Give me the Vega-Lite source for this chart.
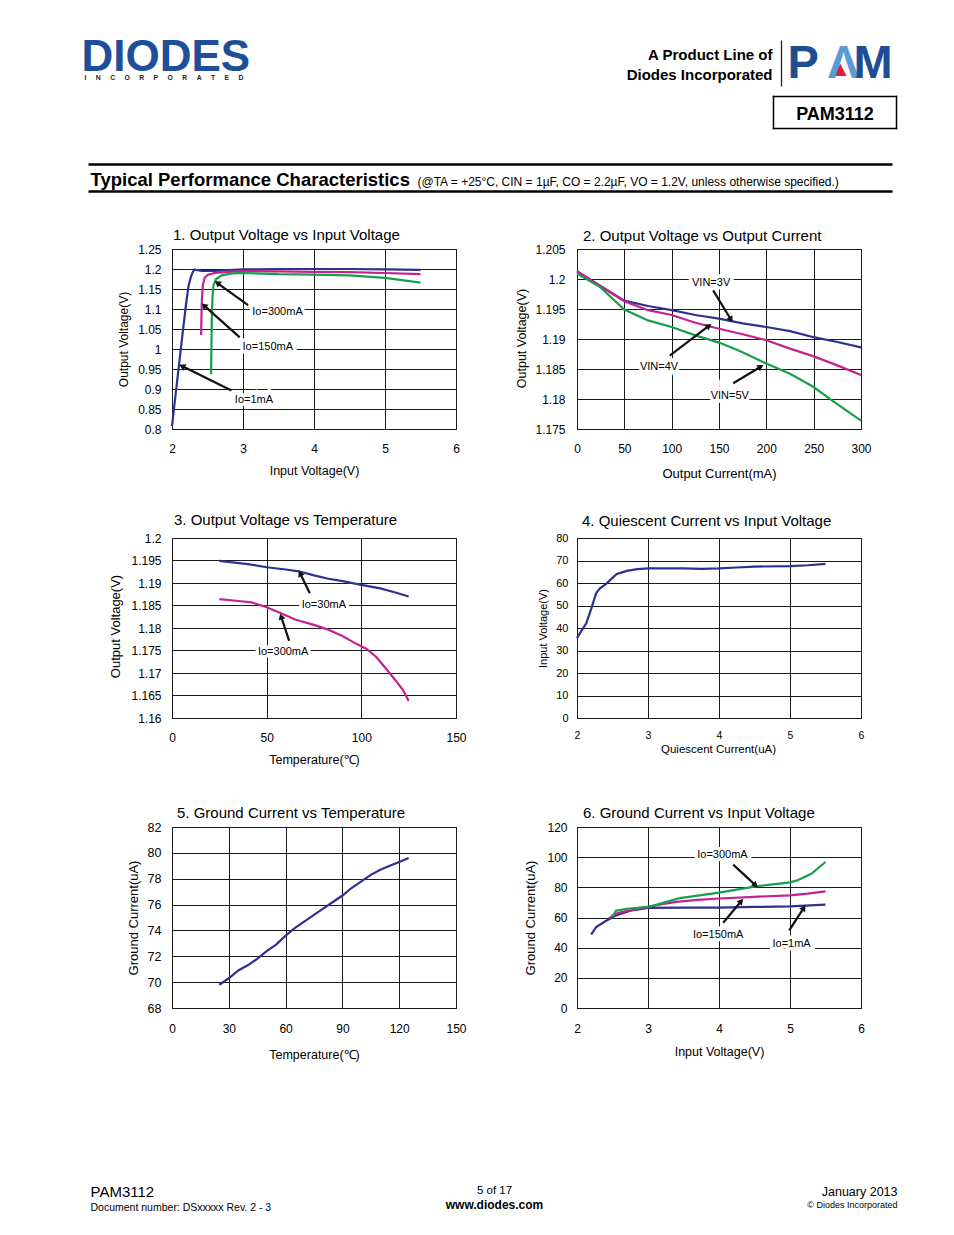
{
  "$schema": "https://vega.github.io/schema/vega-lite/v6.json",
  "background": "white",
  "padding": {"left": 81, "top": 35, "right": 5, "bottom": 5},
  "config": {
    "font": "Liberation Sans",
    "view": {"stroke": "#000", "strokeWidth": 1},
    "axis": {
      "domain": false, "ticks": false, "tickSize": 0, "grid": true,
      "gridColor": "#1a1a1a", "gridWidth": 1, "gridOpacity": 1,
      "labelColor": "#000", "labelFont": "Liberation Sans", "labelFontSize": 12,
      "titleFont": "Liberation Sans", "titleColor": "#000", "titleFontWeight": "normal", "titleFontSize": 12.5,
      "labelOverlap": false, "labelFlush": false, "labelBound": false, "tickCount": 20
    }
  },
  "resolve": {"scale": {"color": "independent"}},
  "datasets": {
    "c1": [
      {"s":"Io=1mA","x":2.0,"y":0.807},{"s":"Io=1mA","x":2.05,"y":0.885},{"s":"Io=1mA","x":2.1,"y":0.962},{"s":"Io=1mA","x":2.15,"y":1.04},{"s":"Io=1mA","x":2.2,"y":1.115},{"s":"Io=1mA","x":2.23,"y":1.155},{"s":"Io=1mA","x":2.27,"y":1.183},{"s":"Io=1mA","x":2.3,"y":1.195},{"s":"Io=1mA","x":2.32,"y":1.199},{"s":"Io=1mA","x":2.36,"y":1.197},{"s":"Io=1mA","x":2.42,"y":1.195},{"s":"Io=1mA","x":2.6,"y":1.195},{"s":"Io=1mA","x":2.8,"y":1.197},{"s":"Io=1mA","x":3.0,"y":1.199},{"s":"Io=1mA","x":3.5,"y":1.2},{"s":"Io=1mA","x":4.0,"y":1.2},{"s":"Io=1mA","x":4.5,"y":1.2},{"s":"Io=1mA","x":5.0,"y":1.199},{"s":"Io=1mA","x":5.5,"y":1.198},
      {"s":"Io=150mA","x":2.41,"y":1.035},{"s":"Io=150mA","x":2.415,"y":1.08},{"s":"Io=150mA","x":2.42,"y":1.12},{"s":"Io=150mA","x":2.435,"y":1.16},{"s":"Io=150mA","x":2.46,"y":1.178},{"s":"Io=150mA","x":2.5,"y":1.185},{"s":"Io=150mA","x":2.6,"y":1.19},{"s":"Io=150mA","x":2.8,"y":1.193},{"s":"Io=150mA","x":3.0,"y":1.195},{"s":"Io=150mA","x":3.5,"y":1.194},{"s":"Io=150mA","x":4.0,"y":1.193},{"s":"Io=150mA","x":4.5,"y":1.192},{"s":"Io=150mA","x":5.0,"y":1.19},{"s":"Io=150mA","x":5.5,"y":1.187},
      {"s":"Io=300mA","x":2.55,"y":0.937},{"s":"Io=300mA","x":2.555,"y":1.0},{"s":"Io=300mA","x":2.56,"y":1.07},{"s":"Io=300mA","x":2.57,"y":1.13},{"s":"Io=300mA","x":2.585,"y":1.16},{"s":"Io=300mA","x":2.62,"y":1.175},{"s":"Io=300mA","x":2.7,"y":1.184},{"s":"Io=300mA","x":2.85,"y":1.189},{"s":"Io=300mA","x":3.0,"y":1.19},{"s":"Io=300mA","x":3.5,"y":1.187},{"s":"Io=300mA","x":4.0,"y":1.186},{"s":"Io=300mA","x":4.5,"y":1.184},{"s":"Io=300mA","x":5.0,"y":1.178},{"s":"Io=300mA","x":5.5,"y":1.166}
    ],
    "c1a": [
      {"x":3.072,"y":1.1097,"x2":2.649,"y2":1.1637,"dir":306},
      {"x":2.954,"y":1.0292,"x2":2.461,"y2":1.1072,"dir":312},
      {"x":2.837,"y":0.8963,"x2":2.155,"y2":0.9561,"dir":296}
    ],
    "c1l": [
      {"label":"Io=300mA","x":3.486,"y":1.093},
      {"label":"Io=150mA","x":3.349,"y":1.004},
      {"label":"Io=1mA","x":3.154,"y":0.873}
    ],
    "c2": [
      {"s":"VIN=3V","x":0,"y":1.2013},{"s":"VIN=3V","x":25,"y":1.1988},{"s":"VIN=3V","x":50,"y":1.1964},{"s":"VIN=3V","x":75,"y":1.1955},{"s":"VIN=3V","x":100,"y":1.1948},{"s":"VIN=3V","x":125,"y":1.194},{"s":"VIN=3V","x":150,"y":1.1934},{"s":"VIN=3V","x":175,"y":1.1926},{"s":"VIN=3V","x":200,"y":1.192},{"s":"VIN=3V","x":225,"y":1.1913},{"s":"VIN=3V","x":250,"y":1.1903},{"s":"VIN=3V","x":275,"y":1.1895},{"s":"VIN=3V","x":300,"y":1.1886},
      {"s":"VIN=4V","x":0,"y":1.2013},{"s":"VIN=4V","x":25,"y":1.1988},{"s":"VIN=4V","x":50,"y":1.1963},{"s":"VIN=4V","x":75,"y":1.1948},{"s":"VIN=4V","x":100,"y":1.194},{"s":"VIN=4V","x":125,"y":1.1927},{"s":"VIN=4V","x":150,"y":1.1917},{"s":"VIN=4V","x":175,"y":1.1908},{"s":"VIN=4V","x":200,"y":1.1898},{"s":"VIN=4V","x":225,"y":1.1884},{"s":"VIN=4V","x":250,"y":1.1871},{"s":"VIN=4V","x":275,"y":1.1856},{"s":"VIN=4V","x":300,"y":1.184},
      {"s":"VIN=5V","x":0,"y":1.2009},{"s":"VIN=5V","x":24,"y":1.1987},{"s":"VIN=5V","x":50,"y":1.1949},{"s":"VIN=5V","x":75,"y":1.1931},{"s":"VIN=5V","x":100,"y":1.192},{"s":"VIN=5V","x":125,"y":1.1906},{"s":"VIN=5V","x":150,"y":1.1894},{"s":"VIN=5V","x":172,"y":1.188},{"s":"VIN=5V","x":200,"y":1.1859},{"s":"VIN=5V","x":225,"y":1.1842},{"s":"VIN=5V","x":250,"y":1.182},{"s":"VIN=5V","x":270,"y":1.1797},{"s":"VIN=5V","x":300,"y":1.1764}
    ],
    "c2a": [
      {"x":143.8,"y":1.1981,"x2":162.1,"y2":1.19337,"dir":148},
      {"x":98.0,"y":1.18722,"x2":138.5,"y2":1.19209,"dir":53},
      {"x":165.0,"y":1.18263,"x2":193.2,"y2":1.1853,"dir":59}
    ],
    "c2l": [
      {"label":"VIN=3V","x":141.7,"y":1.19932},
      {"label":"VIN=4V","x":86.7,"y":1.1853},
      {"label":"VIN=5V","x":161.4,"y":1.18057}
    ],
    "c3": [
      {"s":"Io=30mA","x":25,"y":1.1949},{"s":"Io=30mA","x":40,"y":1.1942},{"s":"Io=30mA","x":50,"y":1.1935},{"s":"Io=30mA","x":60,"y":1.193},{"s":"Io=30mA","x":67,"y":1.1926},{"s":"Io=30mA","x":75,"y":1.1917},{"s":"Io=30mA","x":82,"y":1.191},{"s":"Io=30mA","x":90,"y":1.1904},{"s":"Io=30mA","x":100,"y":1.1896},{"s":"Io=30mA","x":110,"y":1.1888},{"s":"Io=30mA","x":118,"y":1.1879},{"s":"Io=30mA","x":125,"y":1.187},
      {"s":"Io=300mA","x":25,"y":1.1864},{"s":"Io=300mA","x":35,"y":1.186},{"s":"Io=300mA","x":42,"y":1.1857},{"s":"Io=300mA","x":50,"y":1.1846},{"s":"Io=300mA","x":57,"y":1.1834},{"s":"Io=300mA","x":65,"y":1.1819},{"s":"Io=300mA","x":75,"y":1.1807},{"s":"Io=300mA","x":82,"y":1.1797},{"s":"Io=300mA","x":90,"y":1.1782},{"s":"Io=300mA","x":96,"y":1.1768},{"s":"Io=300mA","x":103,"y":1.1753},{"s":"Io=300mA","x":108,"y":1.1735},{"s":"Io=300mA","x":113,"y":1.171},{"s":"Io=300mA","x":118,"y":1.1684},{"s":"Io=300mA","x":122,"y":1.1662},{"s":"Io=300mA","x":125,"y":1.1638}
    ],
    "c3a": [
      {"x":72.8,"y":1.18773,"x2":67.9,"y2":1.19194,"dir":334},
      {"x":61.9,"y":1.17715,"x2":57.8,"y2":1.18233,"dir":342}
    ],
    "c3l": [
      {"label":"Io=30mA","x":80.2,"y":1.18506},
      {"label":"Io=300mA","x":58.7,"y":1.17457}
    ],
    "c4": [
      {"x":2.0,"y":35.5},{"x":2.06,"y":38.6},{"x":2.13,"y":42.1},{"x":2.2,"y":48.5},{"x":2.27,"y":55.5},{"x":2.32,"y":57.5},{"x":2.41,"y":59.6},{"x":2.555,"y":63.9},{"x":2.7,"y":65.4},{"x":2.85,"y":66.2},{"x":3.0,"y":66.5},{"x":3.5,"y":66.5},{"x":3.75,"y":66.3},{"x":4.0,"y":66.5},{"x":4.25,"y":66.9},{"x":4.5,"y":67.3},{"x":5.0,"y":67.5},{"x":5.25,"y":67.9},{"x":5.5,"y":68.5}
    ],
    "c5": [
      {"x":25,"y":69.8},{"x":30,"y":70.3},{"x":35,"y":70.9},{"x":40,"y":71.3},{"x":45,"y":71.8},{"x":50,"y":72.4},{"x":55,"y":72.9},{"x":60,"y":73.6},{"x":65,"y":74.2},{"x":70,"y":74.7},{"x":75,"y":75.2},{"x":80,"y":75.7},{"x":85,"y":76.2},{"x":90,"y":76.7},{"x":95,"y":77.3},{"x":100,"y":77.8},{"x":105,"y":78.3},{"x":110,"y":78.7},{"x":115,"y":79.0},{"x":120,"y":79.3},{"x":125,"y":79.6}
    ],
    "c6": [
      {"s":"Io=1mA","x":2.2,"y":48.6},{"s":"Io=1mA","x":2.27,"y":53.7},{"s":"Io=1mA","x":2.4,"y":57.5},{"s":"Io=1mA","x":2.55,"y":61.4},{"s":"Io=1mA","x":2.75,"y":64.5},{"s":"Io=1mA","x":3.0,"y":66.4},{"s":"Io=1mA","x":3.5,"y":66.5},{"s":"Io=1mA","x":4.0,"y":66.6},{"s":"Io=1mA","x":4.5,"y":67.0},{"s":"Io=1mA","x":5.0,"y":67.4},{"s":"Io=1mA","x":5.5,"y":68.5},
      {"s":"Io=150mA","x":2.45,"y":59.5},{"s":"Io=150mA","x":2.52,"y":62.0},{"s":"Io=150mA","x":2.6,"y":63.2},{"s":"Io=150mA","x":2.8,"y":65.2},{"s":"Io=150mA","x":3.0,"y":67.0},{"s":"Io=150mA","x":3.2,"y":68.8},{"s":"Io=150mA","x":3.4,"y":70.3},{"s":"Io=150mA","x":3.7,"y":71.7},{"s":"Io=150mA","x":4.0,"y":72.6},{"s":"Io=150mA","x":4.5,"y":73.7},{"s":"Io=150mA","x":5.0,"y":74.7},{"s":"Io=150mA","x":5.25,"y":75.8},{"s":"Io=150mA","x":5.5,"y":77.3},
      {"s":"Io=300mA","x":2.5,"y":60.3},{"s":"Io=300mA","x":2.55,"y":64.5},{"s":"Io=300mA","x":2.7,"y":65.8},{"s":"Io=300mA","x":3.0,"y":67.0},{"s":"Io=300mA","x":3.2,"y":69.5},{"s":"Io=300mA","x":3.45,"y":72.9},{"s":"Io=300mA","x":3.7,"y":74.5},{"s":"Io=300mA","x":4.0,"y":76.5},{"s":"Io=300mA","x":4.5,"y":80.5},{"s":"Io=300mA","x":5.0,"y":83.3},{"s":"Io=300mA","x":5.1,"y":84.6},{"s":"Io=300mA","x":5.3,"y":89.0},{"s":"Io=300mA","x":5.5,"y":96.8}
    ],
    "c6a": [
      {"x":4.2,"y":95.03,"x2":4.505,"y2":81.77,"dir":133},
      {"x":4.059,"y":56.57,"x2":4.303,"y2":70.28,"dir":40},
      {"x":4.989,"y":51.49,"x2":5.187,"y2":65.86,"dir":33}
    ],
    "c6l": [
      {"label":"Io=300mA","x":4.049,"y":101.66},
      {"label":"Io=150mA","x":3.988,"y":48.18},
      {"label":"Io=1mA","x":5.022,"y":42.21}
    ]
  },
  "columns": 2,
  "bounds": "flush",
  "align": "each",
  "spacing": {"row": 109, "column": 121},
  "concat": [
    {
      "width": 284, "height": 44, "view": {"stroke": null},
      "data": {"values": [{}]},
      "layer": [
        {"mark": {"type": "point", "opacity": 0, "size": 1},
         "encoding": {
           "x": {"datum": 0.5, "type": "quantitative", "scale": {"domain": [0, 1], "range": [-84, 720]},
                 "axis": {"orient": "bottom", "offset": 24, "domain": true, "domainColor": "#000", "domainWidth": 2.5, "labels": false, "ticks": false, "grid": false,
                          "title": "Typical Performance Characteristics", "titleX": -82, "titleY": 21, "titleAlign": "left", "titleBaseline": "alphabetic", "titleFontSize": 18.5, "titleFontWeight": "bold"}},
           "y": {"datum": 0.5, "type": "quantitative", "scale": {"domain": [0, 1]},
                 "axis": {"orient": "left", "domain": false, "labels": false, "ticks": false, "grid": false,
                          "title": ["A Product Line of", "Diodes Incorporated"], "titleAngle": 0, "titleX": 600, "titleY": -36.5, "titleAlign": "right", "titleBaseline": "alphabetic", "titleFontSize": 15, "titleFontWeight": "bold", "titleLineHeight": 20}}
         }},
        {"mark": {"type": "point", "opacity": 0, "size": 1},
         "encoding": {
           "x": {"datum": 0.5, "type": "quantitative", "scale": {"domain": [0, 1], "range": [-84, 720]},
                 "axis": {"orient": "bottom", "offset": 51, "domain": true, "domainColor": "#000", "domainWidth": 2.5, "labels": false, "ticks": false, "grid": false,
                          "title": "(@TA = +25°C, CIN = 1µF, CO = 2.2µF, VO = 1.2V, unless otherwise specified.)", "titleX": 245, "titleY": -6, "titleAlign": "left", "titleBaseline": "alphabetic", "titleFontSize": 12, "titleFontWeight": "normal"}},
           "y": {"datum": 0.5, "type": "quantitative", "scale": {"domain": [0, 1], "range": [-10, -56]},
                 "axis": {"orient": "right", "offset": 325, "domain": true, "domainColor": "#222", "domainWidth": 1.3, "labels": false, "ticks": false, "grid": false,
                          "title": "▲", "titleFont": "DejaVu Sans", "titleColor": "#e0202e", "titleAngle": 0, "titleX": 59, "titleY": -22.5, "titleAlign": "center", "titleBaseline": "alphabetic", "titleFontSize": 16}}
         }}
      ],
      "resolve": {"scale": {"x": "independent", "y": "independent"}, "axis": {"x": "independent", "y": "independent"}}
    },
    {
      "width": 284, "height": 32, "view": {"stroke": null},
      "data": {"values": [{}]},
      "layer": [
        {"mark": {"type": "point", "opacity": 0, "size": 1},
         "encoding": {
           "x": {"datum": 0.5, "type": "quantitative", "scale": {"domain": [0, 1], "range": [196, 319]},
                 "axis": {"orient": "bottom", "domain": true, "domainColor": "#000", "domainWidth": 1.5, "domainCap": "square", "labels": false, "ticks": false, "grid": false,
                          "title": "PAM3112", "titleX": 257.5, "titleY": -8.7, "titleAlign": "center", "titleBaseline": "alphabetic", "titleFontSize": 18, "titleFontWeight": "bold"}},
           "y": {"datum": 0.5, "type": "quantitative", "scale": {"domain": [0, 1]},
                 "axis": {"orient": "left", "offset": -196, "domain": true, "domainColor": "#000", "domainWidth": 1.5, "domainCap": "square", "labels": false, "ticks": false, "grid": false,
                          "title": "P", "titleAngle": 0, "titleX": 14, "titleY": -19, "titleAlign": "left", "titleBaseline": "alphabetic", "titleFontSize": 47, "titleFontWeight": "bold", "titleColor": "#1d4e94"}}
         }},
        {"mark": {"type": "point", "opacity": 0, "size": 1},
         "encoding": {
           "x": {"datum": 0.5, "type": "quantitative", "scale": {"domain": [0, 1], "range": [196, 319]},
                 "axis": {"orient": "top", "domain": true, "domainColor": "#000", "domainWidth": 1.5, "domainCap": "square", "labels": false, "ticks": false, "grid": false,
                          "title": "Λ", "titleX": 266, "titleY": -19, "titleAlign": "center", "titleBaseline": "alphabetic", "titleFontSize": 47, "titleFontWeight": "bold", "titleColor": "#5b9bd5"}},
           "y": {"datum": 0.5, "type": "quantitative", "scale": {"domain": [0, 1]},
                 "axis": {"orient": "right", "offset": 35, "domain": true, "domainColor": "#000", "domainWidth": 1.5, "domainCap": "square", "labels": false, "ticks": false, "grid": false,
                          "title": "M", "titleAngle": 0, "titleX": -43, "titleY": -19, "titleAlign": "left", "titleBaseline": "alphabetic", "titleFontSize": 47, "titleFontWeight": "bold", "titleColor": "#1d4e94"}}
         }}
      ],
      "resolve": {"scale": {"x": "independent", "y": "independent"}, "axis": {"x": "independent", "y": "independent"}}
    },
    {
      "width": 284, "height": 180,
      "title": {"text": "1. Output Voltage vs Input Voltage", "anchor": "start", "frame": "group", "orient": "top", "dx": 1, "offset": -12, "baseline": "alphabetic", "font": "Liberation Sans", "fontSize": 15, "fontWeight": "normal", "color": "#000"},
      "layer": [
        {"data": {"name": "c1"}, "mark": {"type": "line", "strokeWidth": 2.2},
         "encoding": {
           "x": {"field": "x", "type": "quantitative", "scale": {"domain": [2, 6], "nice": false, "zero": false},
                 "axis": {"values": [2, 3, 4, 5, 6], "tickCount": 20, "format": "d", "labelPadding": 14, "title": "Input Voltage(V)", "titleX": 142, "titleY": 45, "titleBaseline": "alphabetic", "titleFontSize": 12.5}},
           "y": {"field": "y", "type": "quantitative", "scale": {"domain": [0.8, 1.25], "nice": false, "zero": false},
                 "axis": {"values": [0.8, 0.85, 0.9, 0.95, 1, 1.05, 1.1, 1.15, 1.2, 1.25], "tickCount": 20, "format": ".3~f", "labelPadding": 11, "title": "Output Voltage(V)", "titleX": -49, "titleY": 90, "titleBaseline": "middle", "titleFontSize": 12}},
           "color": {"field": "s", "type": "nominal", "legend": null, "scale": {"domain": ["Io=1mA", "Io=150mA", "Io=300mA"], "range": ["#2e3192", "#c4228e", "#17a04c"]}}
         }},
        {"data": {"name": "c1a"}, "mark": {"type": "rule", "color": "#111", "strokeWidth": 2.2},
         "encoding": {"x": {"field": "x", "type": "quantitative"}, "y": {"field": "y", "type": "quantitative"}, "x2": {"field": "x2"}, "y2": {"field": "y2"}}},
        {"data": {"name": "c1a"}, "mark": {"type": "point", "shape": "triangle", "filled": true, "color": "#111", "size": 50, "opacity": 1},
         "encoding": {"x": {"field": "x2", "type": "quantitative"}, "y": {"field": "y2", "type": "quantitative"}, "angle": {"field": "dir", "type": "quantitative", "scale": {"domain": [0, 360], "range": [0, 360]}}}},
        {"data": {"name": "c1l"}, "mark": {"type": "text", "fontSize": 11, "fill": "#fff", "stroke": "#fff", "strokeWidth": 7},
         "encoding": {"x": {"field": "x", "type": "quantitative"}, "y": {"field": "y", "type": "quantitative"}, "text": {"field": "label"}}},
        {"data": {"name": "c1l"}, "mark": {"type": "text", "fontSize": 11, "color": "#000"},
         "encoding": {"x": {"field": "x", "type": "quantitative"}, "y": {"field": "y", "type": "quantitative"}, "text": {"field": "label"}}}
      ]
    },
    {
      "width": 284, "height": 180,
      "title": {"text": "2. Output Voltage vs Output Current", "anchor": "start", "frame": "group", "orient": "top", "dx": 6, "offset": -13, "baseline": "alphabetic", "font": "Liberation Sans", "fontSize": 15, "fontWeight": "normal", "color": "#000"},
      "layer": [
        {"data": {"name": "c2"}, "mark": {"type": "line", "strokeWidth": 2.2},
         "encoding": {
           "x": {"field": "x", "type": "quantitative", "scale": {"domain": [0, 300], "nice": false, "zero": false},
                 "axis": {"values": [0, 50, 100, 150, 200, 250, 300], "tickCount": 20, "format": "d", "labelPadding": 14, "title": "Output Current(mA)", "titleX": 142, "titleY": 48, "titleBaseline": "alphabetic", "titleFontSize": 13}},
           "y": {"field": "y", "type": "quantitative", "scale": {"domain": [1.175, 1.205], "nice": false, "zero": false},
                 "axis": {"values": [1.175, 1.18, 1.185, 1.19, 1.195, 1.2, 1.205], "tickCount": 20, "format": ".3~f", "labelPadding": 12, "title": "Output Voltage(V)", "titleX": -56, "titleY": 89, "titleBaseline": "middle", "titleFontSize": 12.5}},
           "color": {"field": "s", "type": "nominal", "legend": null, "scale": {"domain": ["VIN=3V", "VIN=4V", "VIN=5V"], "range": ["#2e3192", "#c4228e", "#17a04c"]}}
         }},
        {"data": {"name": "c2a"}, "mark": {"type": "rule", "color": "#111", "strokeWidth": 2.2},
         "encoding": {"x": {"field": "x", "type": "quantitative"}, "y": {"field": "y", "type": "quantitative"}, "x2": {"field": "x2"}, "y2": {"field": "y2"}}},
        {"data": {"name": "c2a"}, "mark": {"type": "point", "shape": "triangle", "filled": true, "color": "#111", "size": 50, "opacity": 1},
         "encoding": {"x": {"field": "x2", "type": "quantitative"}, "y": {"field": "y2", "type": "quantitative"}, "angle": {"field": "dir", "type": "quantitative", "scale": {"domain": [0, 360], "range": [0, 360]}}}},
        {"data": {"name": "c2l"}, "mark": {"type": "text", "fontSize": 11, "fill": "#fff", "stroke": "#fff", "strokeWidth": 7},
         "encoding": {"x": {"field": "x", "type": "quantitative"}, "y": {"field": "y", "type": "quantitative"}, "text": {"field": "label"}}},
        {"data": {"name": "c2l"}, "mark": {"type": "text", "fontSize": 11, "color": "#000"},
         "encoding": {"x": {"field": "x", "type": "quantitative"}, "y": {"field": "y", "type": "quantitative"}, "text": {"field": "label"}}}
      ]
    },
    {
      "width": 284, "height": 180,
      "title": {"text": "3. Output Voltage vs Temperature", "anchor": "start", "frame": "group", "orient": "top", "dx": 2, "offset": -8, "baseline": "alphabetic", "font": "Liberation Sans", "fontSize": 15, "fontWeight": "normal", "color": "#000"},
      "layer": [
        {"data": {"name": "c3"}, "mark": {"type": "line", "strokeWidth": 2.2},
         "encoding": {
           "x": {"field": "x", "type": "quantitative", "scale": {"domain": [0, 150], "nice": false, "zero": false},
                 "axis": {"values": [0, 50, 100, 150], "tickCount": 20, "format": "d", "labelPadding": 14, "title": "Temperature(℃)", "titleX": 142, "titleY": 45, "titleBaseline": "alphabetic", "titleFontSize": 12.5}},
           "y": {"field": "y", "type": "quantitative", "scale": {"domain": [1.16, 1.2], "nice": false, "zero": false},
                 "axis": {"values": [1.16, 1.165, 1.17, 1.175, 1.18, 1.185, 1.19, 1.195, 1.2], "tickCount": 20, "format": ".3~f", "labelPadding": 11, "title": "Output Voltage(V)", "titleX": -57, "titleY": 88, "titleBaseline": "middle", "titleFontSize": 13}},
           "color": {"field": "s", "type": "nominal", "legend": null, "scale": {"domain": ["Io=30mA", "Io=300mA"], "range": ["#2e3192", "#c4228e"]}}
         }},
        {"data": {"name": "c3a"}, "mark": {"type": "rule", "color": "#111", "strokeWidth": 2.2},
         "encoding": {"x": {"field": "x", "type": "quantitative"}, "y": {"field": "y", "type": "quantitative"}, "x2": {"field": "x2"}, "y2": {"field": "y2"}}},
        {"data": {"name": "c3a"}, "mark": {"type": "point", "shape": "triangle", "filled": true, "color": "#111", "size": 50, "opacity": 1},
         "encoding": {"x": {"field": "x2", "type": "quantitative"}, "y": {"field": "y2", "type": "quantitative"}, "angle": {"field": "dir", "type": "quantitative", "scale": {"domain": [0, 360], "range": [0, 360]}}}},
        {"data": {"name": "c3l"}, "mark": {"type": "text", "fontSize": 11, "fill": "#fff", "stroke": "#fff", "strokeWidth": 7},
         "encoding": {"x": {"field": "x", "type": "quantitative"}, "y": {"field": "y", "type": "quantitative"}, "text": {"field": "label"}}},
        {"data": {"name": "c3l"}, "mark": {"type": "text", "fontSize": 11, "color": "#000"},
         "encoding": {"x": {"field": "x", "type": "quantitative"}, "y": {"field": "y", "type": "quantitative"}, "text": {"field": "label"}}}
      ]
    },
    {
      "width": 284, "height": 180,
      "title": {"text": "4. Quiescent Current vs Input Voltage", "anchor": "start", "frame": "group", "orient": "top", "dx": 5, "offset": -9, "baseline": "alphabetic", "font": "Liberation Sans", "fontSize": 15, "fontWeight": "normal", "color": "#000"},
      "data": {"name": "c4"},
      "mark": {"type": "line", "strokeWidth": 2.2, "color": "#2e3192"},
      "encoding": {
        "x": {"field": "x", "type": "quantitative", "scale": {"domain": [2, 6], "nice": false, "zero": false},
              "axis": {"values": [2, 3, 4, 5, 6], "tickCount": 20, "format": "d", "labelPadding": 12, "labelFontSize": 10.5, "title": "Quiescent Current(uA)", "titleX": 141, "titleY": 34, "titleBaseline": "alphabetic", "titleFontSize": 11.5}},
        "y": {"field": "y", "type": "quantitative", "scale": {"domain": [0, 80], "nice": false, "zero": false},
              "axis": {"values": [0, 10, 20, 30, 40, 50, 60, 70, 80], "tickCount": 20, "format": "d", "labelPadding": 9, "labelFontSize": 11, "title": "Input Voltage(V)", "titleX": -34, "titleY": 90, "titleBaseline": "middle", "titleFontSize": 11}}
      }
    },
    {
      "width": 284, "height": 181,
      "title": {"text": "5. Ground Current vs Temperature", "anchor": "start", "frame": "group", "orient": "top", "dx": 5, "offset": -12, "baseline": "alphabetic", "font": "Liberation Sans", "fontSize": 15, "fontWeight": "normal", "color": "#000"},
      "data": {"name": "c5"},
      "mark": {"type": "line", "strokeWidth": 2.2, "color": "#2e3192"},
      "encoding": {
        "x": {"field": "x", "type": "quantitative", "scale": {"domain": [0, 150], "nice": false, "zero": false},
              "axis": {"values": [0, 30, 60, 90, 120, 150], "tickCount": 20, "format": "d", "labelPadding": 15, "title": "Temperature(℃)", "titleX": 142, "titleY": 50, "titleBaseline": "alphabetic", "titleFontSize": 12.5}},
        "y": {"field": "y", "type": "quantitative", "scale": {"domain": [68, 82], "nice": false, "zero": false},
              "axis": {"values": [68, 70, 72, 74, 76, 78, 80, 82], "tickCount": 20, "format": "d", "labelPadding": 11, "labelFontSize": 12.5, "title": "Ground Current(uA)", "titleX": -39, "titleY": 90.5, "titleBaseline": "middle", "titleFontSize": 13}}
      }
    },
    {
      "width": 284, "height": 181,
      "title": {"text": "6. Ground Current vs Input Voltage", "anchor": "start", "frame": "group", "orient": "top", "dx": 6, "offset": -12, "baseline": "alphabetic", "font": "Liberation Sans", "fontSize": 15, "fontWeight": "normal", "color": "#000"},
      "layer": [
        {"data": {"name": "c6"}, "mark": {"type": "line", "strokeWidth": 2.2},
         "encoding": {
           "x": {"field": "x", "type": "quantitative", "scale": {"domain": [2, 6], "nice": false, "zero": false},
                 "axis": {"values": [2, 3, 4, 5, 6], "tickCount": 20, "format": "d", "labelPadding": 15, "title": "Input Voltage(V)", "titleX": 142, "titleY": 47, "titleBaseline": "alphabetic", "titleFontSize": 12.5}},
           "y": {"field": "y", "type": "quantitative", "scale": {"domain": [0, 120], "nice": false, "zero": false},
                 "axis": {"values": [0, 20, 40, 60, 80, 100, 120], "tickCount": 20, "format": "d", "labelPadding": 10, "title": "Ground Current(uA)", "titleX": -47, "titleY": 90.5, "titleBaseline": "middle", "titleFontSize": 13}},
           "color": {"field": "s", "type": "nominal", "legend": null, "scale": {"domain": ["Io=1mA", "Io=150mA", "Io=300mA"], "range": ["#2e3192", "#c4228e", "#17a04c"]}}
         }},
        {"data": {"name": "c6a"}, "mark": {"type": "rule", "color": "#111", "strokeWidth": 2.2},
         "encoding": {"x": {"field": "x", "type": "quantitative"}, "y": {"field": "y", "type": "quantitative"}, "x2": {"field": "x2"}, "y2": {"field": "y2"}}},
        {"data": {"name": "c6a"}, "mark": {"type": "point", "shape": "triangle", "filled": true, "color": "#111", "size": 50, "opacity": 1},
         "encoding": {"x": {"field": "x2", "type": "quantitative"}, "y": {"field": "y2", "type": "quantitative"}, "angle": {"field": "dir", "type": "quantitative", "scale": {"domain": [0, 360], "range": [0, 360]}}}},
        {"data": {"name": "c6l"}, "mark": {"type": "text", "fontSize": 11, "fill": "#fff", "stroke": "#fff", "strokeWidth": 7},
         "encoding": {"x": {"field": "x", "type": "quantitative"}, "y": {"field": "y", "type": "quantitative"}, "text": {"field": "label"}}},
        {"data": {"name": "c6l"}, "mark": {"type": "text", "fontSize": 11, "color": "#000"},
         "encoding": {"x": {"field": "x", "type": "quantitative"}, "y": {"field": "y", "type": "quantitative"}, "text": {"field": "label"}}}
      ]
    },
    {
      "width": 284, "height": 100, "view": {"stroke": null},
      "data": {"values": [{}]},
      "layer": [
        {"mark": {"type": "point", "opacity": 0, "size": 1},
         "encoding": {
           "x": {"datum": 0.5, "type": "quantitative", "scale": {"domain": [0, 1]},
                 "axis": {"orient": "bottom", "domain": false, "labels": false, "ticks": false, "grid": false,
                          "title": "PAM3112", "titleX": -82, "titleY": -20.5, "titleAlign": "left", "titleBaseline": "alphabetic", "titleFontSize": 15}},
           "y": {"datum": 0.5, "type": "quantitative", "scale": {"domain": [0, 1]},
                 "axis": {"orient": "left", "domain": false, "labels": false, "ticks": false, "grid": false,
                          "title": "Document number: DSxxxxx Rev. 2 - 3", "titleAngle": 0, "titleX": -82, "titleY": 93, "titleAlign": "left", "titleBaseline": "alphabetic", "titleFontSize": 10.5}}
         }},
        {"mark": {"type": "point", "opacity": 0, "size": 1},
         "encoding": {
           "x": {"datum": 0.5, "type": "quantitative", "scale": {"domain": [0, 1]},
                 "axis": {"orient": "top", "domain": false, "labels": false, "ticks": false, "grid": false,
                          "title": "5 of 17", "titleX": 322, "titleY": 76.5, "titleAlign": "center", "titleBaseline": "alphabetic", "titleFontSize": 11.5}},
           "y": {"datum": 0.5, "type": "quantitative", "scale": {"domain": [0, 1]},
                 "axis": {"orient": "right", "domain": false, "labels": false, "ticks": false, "grid": false,
                          "title": "www.diodes.com", "titleAngle": 0, "titleX": 38, "titleY": 91, "titleAlign": "center", "titleBaseline": "alphabetic", "titleFontSize": 12, "titleFontWeight": "bold"}}
         }}
      ],
      "resolve": {"scale": {"x": "independent", "y": "independent"}, "axis": {"x": "independent", "y": "independent"}}
    },
    {
      "width": 284, "height": 100, "view": {"stroke": null},
      "data": {"values": [{}]},
      "layer": [
        {"mark": {"type": "point", "opacity": 0, "size": 1},
         "encoding": {
           "x": {"datum": 0.5, "type": "quantitative", "scale": {"domain": [0, 1]},
                 "axis": {"orient": "bottom", "domain": false, "labels": false, "ticks": false, "grid": false,
                          "title": "January 2013", "titleX": 320, "titleY": -22, "titleAlign": "right", "titleBaseline": "alphabetic", "titleFontSize": 12.5}},
           "y": {"datum": 0.5, "type": "quantitative", "scale": {"domain": [0, 1]},
                 "axis": {"orient": "left", "domain": false, "labels": false, "ticks": false, "grid": false,
                          "title": "© Diodes Incorporated", "titleAngle": 0, "titleX": 320, "titleY": 90.5, "titleAlign": "right", "titleBaseline": "alphabetic", "titleFontSize": 9}}
         }},
        {"mark": {"type": "point", "opacity": 0, "size": 1},
         "encoding": {
           "x": {"datum": 0.5, "type": "quantitative", "scale": {"domain": [0, 1]},
                 "axis": {"orient": "top", "domain": false, "labels": false, "ticks": false, "grid": false,
                          "title": "DIODES", "titleX": -496, "titleY": -1047, "titleAlign": "left", "titleBaseline": "alphabetic", "titleFontSize": 44, "titleFontWeight": "bold", "titleColor": "#1f4f9b"}},
           "y": {"datum": 0.5, "type": "quantitative", "scale": {"domain": [0, 1]},
                 "axis": {"orient": "right", "domain": false, "labels": false, "ticks": false, "grid": false,
                          "title": "I\u00a0\u00a0\u00a0\u00a0\u00a0N\u00a0\u00a0\u00a0\u00a0\u00a0C\u00a0\u00a0\u00a0\u00a0\u00a0O\u00a0\u00a0\u00a0\u00a0\u00a0R\u00a0\u00a0\u00a0\u00a0\u00a0P\u00a0\u00a0\u00a0\u00a0\u00a0O\u00a0\u00a0\u00a0\u00a0\u00a0R\u00a0\u00a0\u00a0\u00a0\u00a0A\u00a0\u00a0\u00a0\u00a0\u00a0T\u00a0\u00a0\u00a0\u00a0\u00a0E\u00a0\u00a0\u00a0\u00a0\u00a0D", "titleAngle": 0, "titleX": -777, "titleY": -1038, "titleAlign": "left", "titleBaseline": "alphabetic", "titleFontSize": 6.8, "titleFontWeight": "bold", "titleColor": "#222"}}
         }}
      ],
      "resolve": {"scale": {"x": "independent", "y": "independent"}, "axis": {"x": "independent", "y": "independent"}}
    }
  ]
}
